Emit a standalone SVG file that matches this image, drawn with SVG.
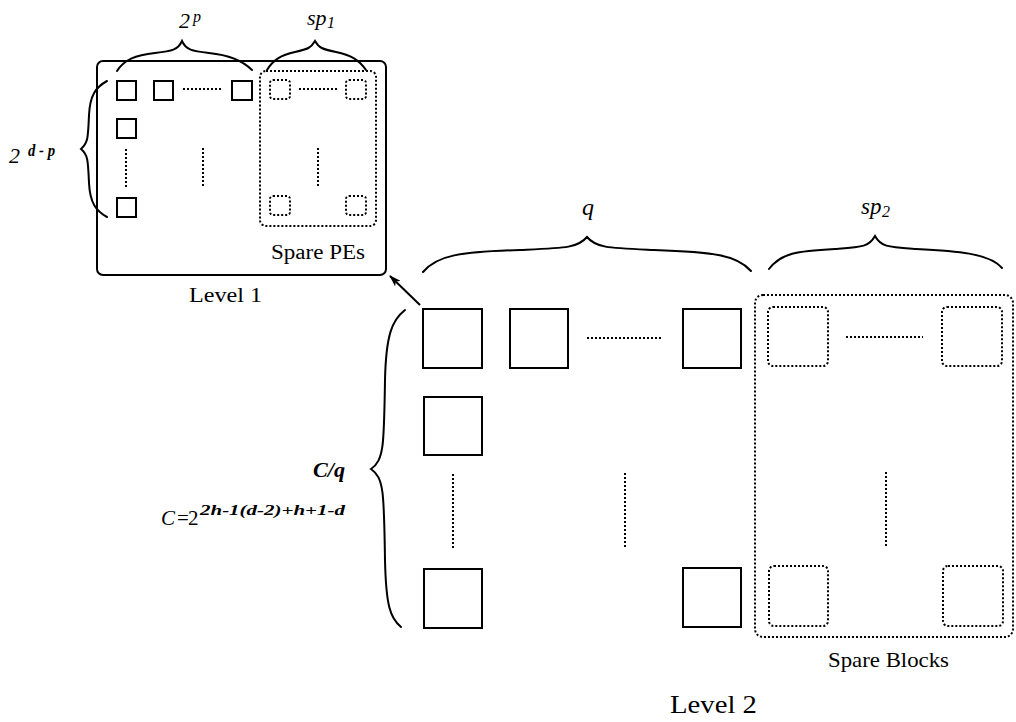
<svg xmlns="http://www.w3.org/2000/svg" width="1016" height="722" viewBox="0 0 1016 722">
<style>
.solid{fill:none;stroke:#000;stroke-width:2}
.dot{fill:none;stroke:#000;stroke-width:2;stroke-dasharray:2 2}
.brace{fill:none;stroke:#000;stroke-width:2;stroke-linecap:round}
.lbl{font-family:"Liberation Serif","Times New Roman",serif;fill:#000}
.it{font-family:"Liberation Serif","Times New Roman",serif;font-style:italic;fill:#000}
</style>
<defs>
<marker id="ah" viewBox="0 0 12 8" refX="11" refY="4" markerWidth="12" markerHeight="8" markerUnits="userSpaceOnUse" orient="auto">
<path d="M0,0 L12,4 L0,8 L3,4 Z" fill="#000"/>
</marker>
</defs>
<rect width="1016" height="722" fill="#fff"/>

<g id="level1">
<rect class="solid" x="97" y="61" width="289" height="214" rx="6"/>
<rect class="solid" x="117" y="81" width="19" height="19"/>
<rect class="solid" x="154" y="81" width="19" height="19"/>
<rect class="solid" x="232" y="81" width="20" height="19"/>
<rect class="solid" x="117" y="119" width="19" height="19"/>
<rect class="solid" x="117" y="198" width="19" height="19"/>
<line class="dot" x1="183" y1="89" x2="223" y2="89"/>
<line class="dot" x1="126" y1="149" x2="126" y2="188"/>
<line class="dot" x1="203" y1="148" x2="203" y2="187"/>
<text class="lbl" x="189" y="302" font-size="20" textLength="73" lengthAdjust="spacingAndGlyphs">Level  1</text>
</g>

<g id="spare-pes">
<rect class="dot" x="260" y="71" width="116" height="155" rx="6"/>
<rect class="dot" x="270" y="80" width="20" height="19" rx="3"/>
<rect class="dot" x="346" y="80" width="20" height="19" rx="3"/>
<rect class="dot" x="270" y="196" width="20" height="19" rx="3"/>
<rect class="dot" x="346" y="196" width="20" height="19" rx="3"/>
<line class="dot" x1="299" y1="89" x2="338" y2="89"/>
<line class="dot" x1="318" y1="148" x2="318" y2="187"/>
<text class="lbl" x="271" y="259" font-size="20" textLength="94" lengthAdjust="spacingAndGlyphs">Spare PEs</text>
</g>

<g id="level2">
<rect class="solid" x="423" y="309" width="59" height="59"/>
<rect class="solid" x="510" y="309" width="58" height="59"/>
<rect class="solid" x="683" y="309" width="58" height="59"/>
<rect class="solid" x="424" y="397" width="58" height="58"/>
<rect class="solid" x="424" y="569" width="58" height="59"/>
<rect class="solid" x="683" y="568" width="58" height="59"/>
<line class="dot" x1="587" y1="338" x2="663" y2="338"/>
<line class="dot" x1="453" y1="474" x2="453" y2="549"/>
<line class="dot" x1="625" y1="473" x2="625" y2="548"/>
<text class="lbl" x="670" y="713" font-size="25" textLength="87" lengthAdjust="spacingAndGlyphs">Level  2</text>
</g>

<g id="spare-blocks">
<rect class="dot" x="755" y="295" width="258" height="342" rx="8"/>
<rect class="dot" x="768" y="307" width="60" height="59" rx="5"/>
<rect class="dot" x="942" y="307" width="60" height="59" rx="5"/>
<rect class="dot" x="769" y="566" width="59" height="60" rx="5"/>
<rect class="dot" x="943" y="566" width="60" height="60" rx="5"/>
<line class="dot" x1="846" y1="337" x2="923" y2="337"/>
<line class="dot" x1="886" y1="472" x2="886" y2="547"/>
<text class="lbl" x="828" y="667" font-size="21" textLength="121" lengthAdjust="spacingAndGlyphs">Spare Blocks</text>
</g>

<g id="braces">
<path class="brace" d="M117,71 C124,60 135,55 155,53 C172,51 178,50 182,41 C186,50 192,51 209,53 C229,55 242,60 252,70"/>
<path class="brace" d="M267,70 C273,60 281,55 295,52 C308,49 311,48 315,41 C319,48 322,49 336,52 C351,55 359,60 366,70"/>
<path class="brace" d="M107,81 C96,87 90,95 89,115 C88,138 88,143 81,149 C88,155 88,160 89,183 C90,203 96,211 107,217"/>
<path class="brace" d="M423,272 C437,255 460,252 520,250 C565,248 578,248 587,237 C596,248 609,248 654,250 C714,252 737,255 751,271"/>
<path class="brace" d="M769,269 C781,253 797,251 835,249 C862,247 869,247 875,236 C881,247 888,247 916,249 C956,251 989,253 1002,268"/>
<path class="brace" d="M405,310 C392,320 386,335 385,380 C384,445 384,460 371,469 C384,478 384,493 385,560 C386,605 390,618 401,627"/>
</g>

<g id="labels">
<text class="it" x="179" y="28" font-size="22">2</text>
<text class="it" x="193" y="22" font-size="16">p</text>
<text class="it" x="307" y="25" font-size="22">sp</text>
<text class="it" x="327" y="28" font-size="16">1</text>
<text class="it" x="9" y="163" font-size="22">2</text>
<text class="it" x="28" y="156" font-size="16" font-weight="bold" textLength="27" lengthAdjust="spacingAndGlyphs">d - p</text>
<text class="it" x="582" y="215" font-size="24">q</text>
<text class="it" x="861" y="214" font-size="23">sp</text>
<text class="it" x="882" y="217" font-size="16">2</text>
<text class="it" x="313" y="477" font-size="21" font-weight="bold" textLength="32" lengthAdjust="spacingAndGlyphs">C/q</text>
<text class="it" x="161" y="525" font-size="21">C</text>
<text class="lbl" x="177" y="525" font-size="21">=</text>
<text class="lbl" x="188" y="525" font-size="21">2</text>
<text class="it" x="200" y="515" font-size="15" font-weight="bold" textLength="145" lengthAdjust="spacingAndGlyphs">2h-1(d-2)+h+1-d</text>
</g>

<g id="connectors">
<line x1="420" y1="305" x2="390" y2="276" stroke="#000" stroke-width="2" marker-end="url(#ah)"/>
</g>
</svg>
